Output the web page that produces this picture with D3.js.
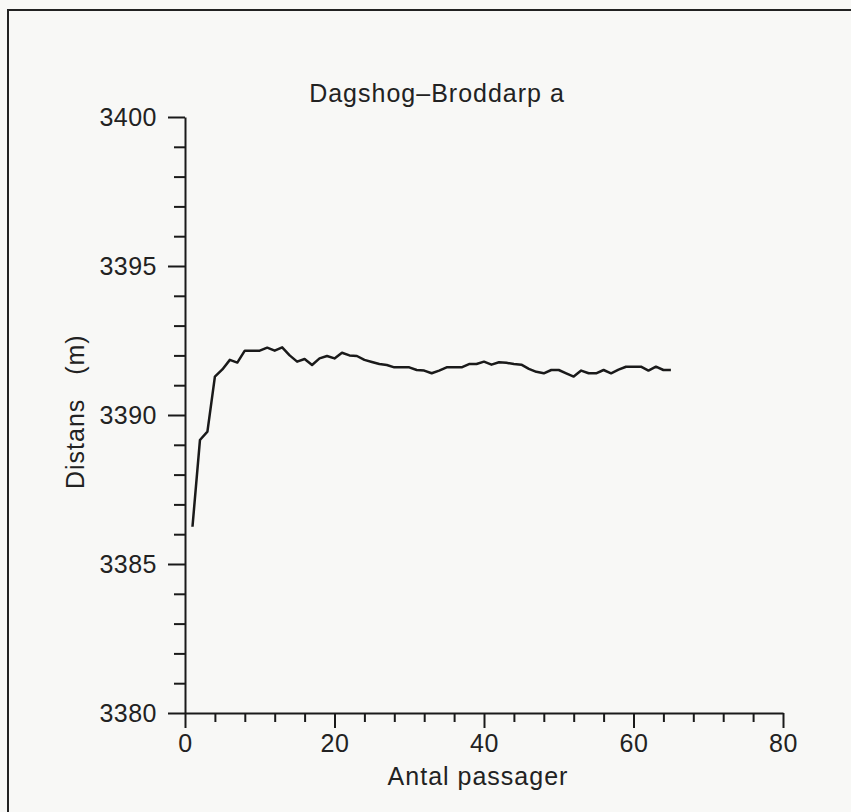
<!DOCTYPE html>
<html>
<head>
<meta charset="utf-8">
<script src="https://cdn.jsdelivr.net/npm/d3@7"></script>
<style>
  body { margin: 0; background: #f8f8f6; }
  svg text { font-family: "Liberation Sans", Arial, sans-serif; fill: #222; }
</style>
</head>
<body>
<div id="container"></div>
<script>
/* CONSTANTS AND GLOBALS */
const width = 851,
  height = 812,
  margin = { top: 117, bottom: 99, left: 185, right: 68 }

/* DATA */
const passager = d3.range(1, 66)
const distans = [
  3386.25, 3389.16, 3389.44, 3391.29, 3391.53, 3391.85, 3391.76, 3392.16, 3392.16, 3392.16,
  3392.26, 3392.16, 3392.27, 3392.00, 3391.79, 3391.88, 3391.68, 3391.90, 3391.98, 3391.90,
  3392.09, 3392.00, 3391.98, 3391.85, 3391.78, 3391.71, 3391.68, 3391.60, 3391.60, 3391.60,
  3391.51, 3391.49, 3391.40, 3391.49, 3391.60, 3391.60, 3391.60, 3391.71, 3391.71, 3391.79,
  3391.69, 3391.77, 3391.75, 3391.71, 3391.69, 3391.55, 3391.45, 3391.40, 3391.51, 3391.51,
  3391.40, 3391.29, 3391.49, 3391.40, 3391.40, 3391.51, 3391.40, 3391.52, 3391.62, 3391.62,
  3391.62, 3391.49, 3391.62, 3391.51, 3391.51
]
const xTicks = d3.range(0, 81, 4)
const xLabels = [0, 20, 40, 60, 80]
const yTicks = d3.range(3380, 3401, 1)
const yLabels = [3380, 3385, 3390, 3395, 3400]

const data = passager.map((p, i) => ({ x: p, y: distans[i] }))

// SCALES
const xScale = d3.scaleLinear()
  .domain([0, 80])
  .range([margin.left, width - margin.right])

const yScale = d3.scaleLinear()
  .domain([3380, 3400])
  .range([height - margin.bottom, margin.top])

// SVG
const svg = d3.select("#container")
  .append("svg")
  .attr("width", width)
  .attr("height", height)

// frame of the scanned page
svg.append("rect")
  .attr("x", 8)
  .attr("y", 10)
  .attr("width", 900)
  .attr("height", 900)
  .attr("fill", "none")
  .attr("stroke", "#222")
  .attr("stroke-width", 2)

// AXES
const xAxis = d3.axisBottom(xScale)
  .tickValues(xTicks)
  .tickSizeOuter(0)
  .tickFormat(d => xLabels.includes(d) ? d : "")

const xAxisGroup = svg.append("g")
  .attr("transform", `translate(0, ${height - margin.bottom})`)
  .call(xAxis)

xAxisGroup.selectAll(".tick line")
  .attr("y2", d => xLabels.includes(d) ? 15 : 9)
xAxisGroup.selectAll(".tick text")
  .attr("y", 21)
  .attr("font-size", 25)
  .attr("letter-spacing", 0.5)

const yAxis = d3.axisLeft(yScale)
  .tickValues(yTicks)
  .tickSizeOuter(0)
  .tickFormat(d => yLabels.includes(d) ? d : "")

const yAxisGroup = svg.append("g")
  .attr("transform", `translate(${margin.left}, 0)`)
  .call(yAxis)

yAxisGroup.selectAll(".tick line")
  .attr("x2", d => yLabels.includes(d) ? -17 : -11)
yAxisGroup.selectAll(".tick text")
  .attr("x", -28)
  .attr("font-size", 25)
  .attr("letter-spacing", 0.5)

svg.selectAll(".domain, .tick line")
  .attr("stroke", "#1a1a1a")
  .attr("stroke-width", 2)

// LABELS
svg.append("text")
  .attr("x", 437)
  .attr("y", 102)
  .attr("text-anchor", "middle")
  .attr("font-size", 25)
  .attr("letter-spacing", 1)
  .text("Dagshog–Broddarp a")

svg.append("text")
  .attr("x", 478)
  .attr("y", 785)
  .attr("text-anchor", "middle")
  .attr("font-size", 25)
  .attr("letter-spacing", 1)
  .text("Antal passager")

svg.append("text")
  .attr("transform", "rotate(-90)")
  .attr("x", -489)
  .attr("y", 84)
  .attr("text-anchor", "start")
  .attr("font-size", 25)
  .attr("letter-spacing", 1)
  .attr("xml:space", "preserve")
  .style("white-space", "pre")
  .text("Distans   (m)")

// LINE
const lineGen = d3.line()
  .x(d => xScale(d.x))
  .y(d => yScale(d.y))

svg.append("path")
  .datum(data)
  .attr("fill", "none")
  .attr("stroke", "#1a1a1a")
  .attr("stroke-width", 2.5)
  .attr("stroke-linejoin", "round")
  .attr("d", lineGen)
</script>
</body>
</html>
